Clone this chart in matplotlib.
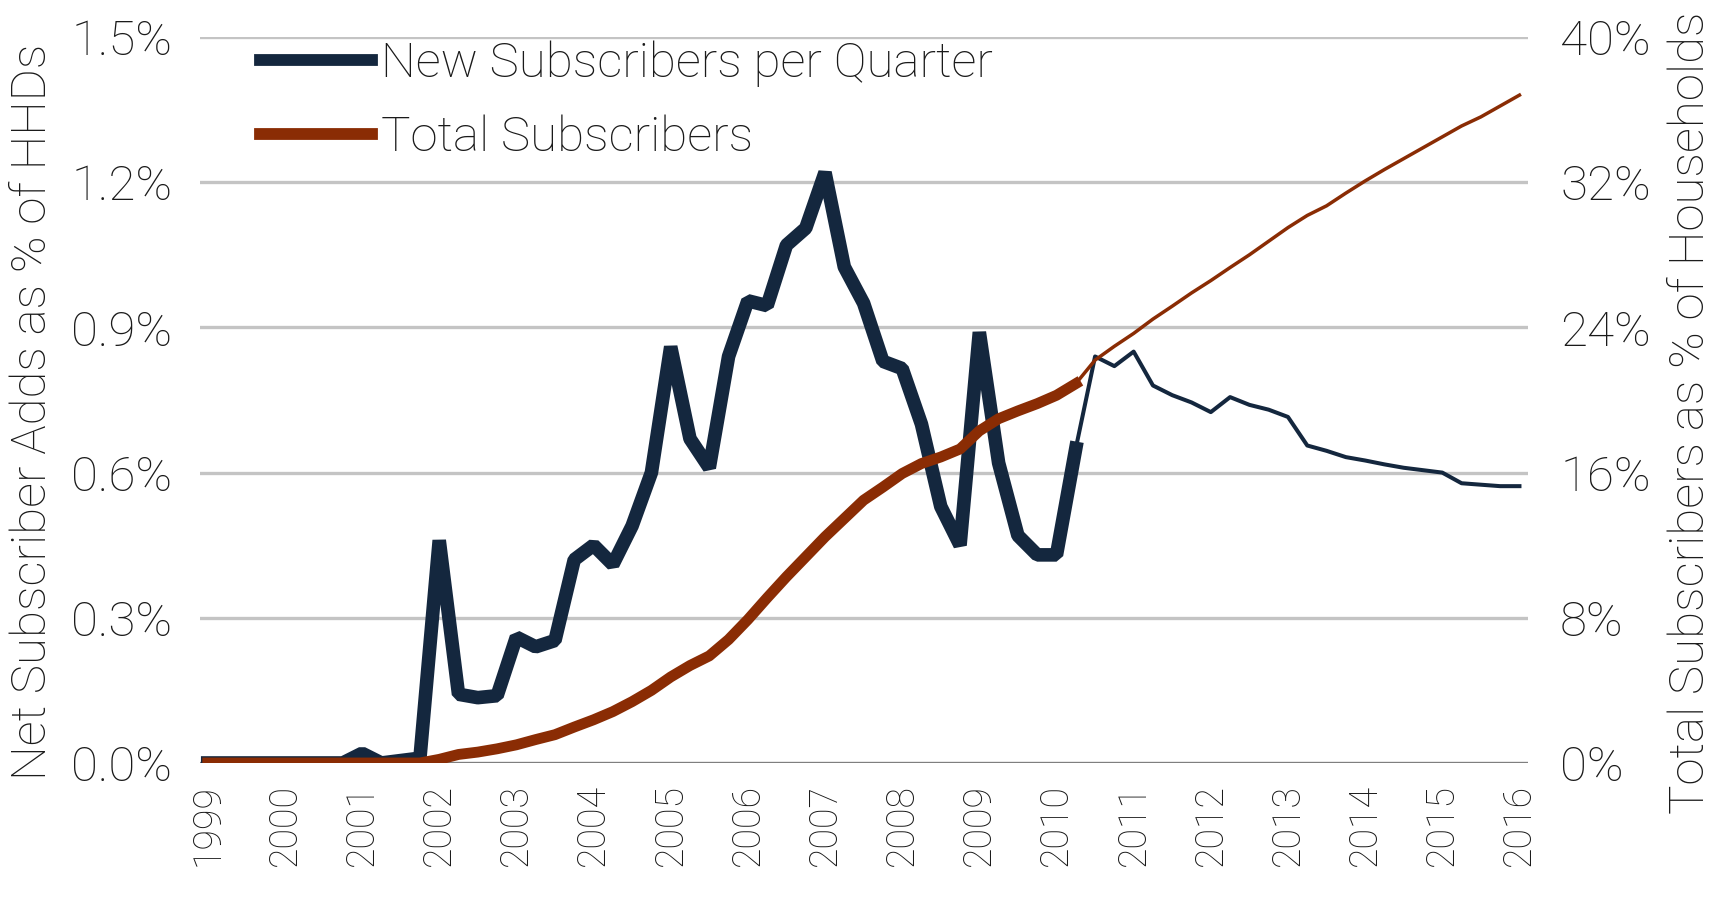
import numpy as np
import matplotlib
matplotlib.use("Agg")
import matplotlib.pyplot as plt
from matplotlib.lines import Line2D

# quarterly data, 1999Q1 .. 2016Q1
years = [str(y) for y in range(1999, 2017)]

# net subscriber adds per quarter, % of households (left axis)
net_adds = [
    0.0, 0.0, 0.0, 0.0,          # 1999
    0.0, 0.0, 0.0, 0.0,          # 2000
    0.02, 0.0, 0.005, 0.01,      # 2001
    0.46, 0.142, 0.135, 0.139,   # 2002
    0.26, 0.24, 0.253, 0.42,     # 2003
    0.45, 0.41, 0.49, 0.60,      # 2004
    0.86, 0.67, 0.61, 0.84,      # 2005
    0.955, 0.945, 1.07, 1.105,   # 2006
    1.22, 1.025, 0.95, 0.83,     # 2007
    0.815, 0.70, 0.53, 0.45,     # 2008
    0.89, 0.62, 0.47, 0.43,      # 2009
    0.43, 0.65, 0.84, 0.82,      # 2010
    0.85, 0.78, 0.76, 0.745,     # 2011
    0.725, 0.756, 0.74, 0.73,    # 2012
    0.715, 0.656, 0.645, 0.632,  # 2013
    0.625, 0.617, 0.61, 0.605,   # 2014
    0.60, 0.578, 0.575, 0.572,   # 2015
    0.572,                       # 2016
]

# total subscribers, % of households (right axis)
total_subs = [
    0.0, 0.0, 0.0, 0.0,
    0.0, 0.0, 0.0, 0.0,
    0.0, 0.0, 0.0, 0.0,
    0.2, 0.47, 0.6, 0.78,
    1.0, 1.29, 1.56, 1.98,
    2.38, 2.83, 3.38, 4.0,
    4.74, 5.37, 5.9, 6.8,
    7.9, 9.1, 10.26, 11.36,
    12.46, 13.47, 14.48, 15.2,
    15.95, 16.5, 16.86, 17.3,
    18.3, 18.97, 19.4, 19.8,
    20.26, 20.9, 22.2, 22.96,
    23.67, 24.46, 25.17, 25.9,
    26.58, 27.3, 28.0, 28.75,
    29.5, 30.17, 30.7, 31.4,
    32.07, 32.7, 33.3, 33.9,
    34.5, 35.1, 35.6, 36.2,
    36.8,
]

left_ticks = [0.0, 0.3, 0.6, 0.9, 1.2, 1.5]
right_ticks = [0, 8, 16, 24, 32, 40]
split = 45  # last actual quarter (2010Q2); thinner line after it

NAVY, RUST, GRID, TXT = "#14273e", "#8a2c04", "#c4c4c4", "#1a1a1a"
FS = 35.5

plt.rcParams["font.family"] = ["Roboto", "DejaVu Sans"]
plt.rcParams["font.weight"] = "light"

fig = plt.figure(figsize=(17.17, 8.99), dpi=100, facecolor="white")
ax = fig.add_axes([0.1165, 0.1513, 0.7735, 0.8075])
ax2 = ax.twinx()

x = np.arange(len(net_adds))
na = np.array(net_adds)
ts = np.array(total_subs)

ax.plot(x[:split + 1], na[:split + 1], color=NAVY, lw=9.8, solid_joinstyle="bevel", zorder=3)
ax.plot(x[split:], na[split:], color=NAVY, lw=2.9, zorder=3)
ax2.plot(x[:split + 1], ts[:split + 1], color=RUST, lw=7.8, solid_joinstyle="round", zorder=4)
ax2.plot(x[split:], ts[split:], color=RUST, lw=2.5, zorder=4)

ax.set_xlim(-0.4, len(x) - 1 + 0.45)
ax.set_ylim(0, 1.5)
ax2.set_ylim(0, 40)
ax.set_yticks(left_ticks)
ax.set_yticklabels(["%.1f%%" % v for v in left_ticks])
ax2.set_yticks(right_ticks)
ax2.set_yticklabels(["%d%%" % v for v in right_ticks])
ax.set_xticks(x[::4])
ax.set_xticklabels(years, rotation=90)

ax.grid(axis="y", color=GRID, lw=2.4)
ax.set_axisbelow(True)
for a in (ax, ax2):
    for s in ("top", "right", "left", "bottom"):
        a.spines[s].set_visible(False)
ax.axhline(0, color="#7f7f7f", lw=1.6, zorder=2)

ax.tick_params(axis="y", length=0, pad=20, labelsize=FS, labelcolor=TXT)
ax2.tick_params(axis="y", length=0, pad=23, labelsize=FS, labelcolor=TXT)
ax.tick_params(axis="x", length=0, pad=15, labelsize=27, labelcolor=TXT)

fig.text(0.019, 0.542, "Net Subscriber Adds as % of HHDs", rotation=90, ha="center",
         va="center", fontsize=FS, color=TXT)
fig.text(0.985, 0.541, "Total Subscribers as % of Households", rotation=90, ha="center",
         va="center", fontsize=FS, color=TXT)

handles = [Line2D([], [], color=NAVY, lw=8.5), Line2D([], [], color=RUST, lw=8.5)]
ax.legend(handles, ["New Subscribers per Quarter", "Total Subscribers"], loc="upper left",
          bbox_to_anchor=(0.0448, 0.995), frameon=False, fontsize=FS, handlelength=2.29,
          handletextpad=0.18, labelspacing=0.55, labelcolor=TXT, borderaxespad=0.0,
          borderpad=0.0)

fig.savefig("out.png", dpi=100, facecolor="white")
